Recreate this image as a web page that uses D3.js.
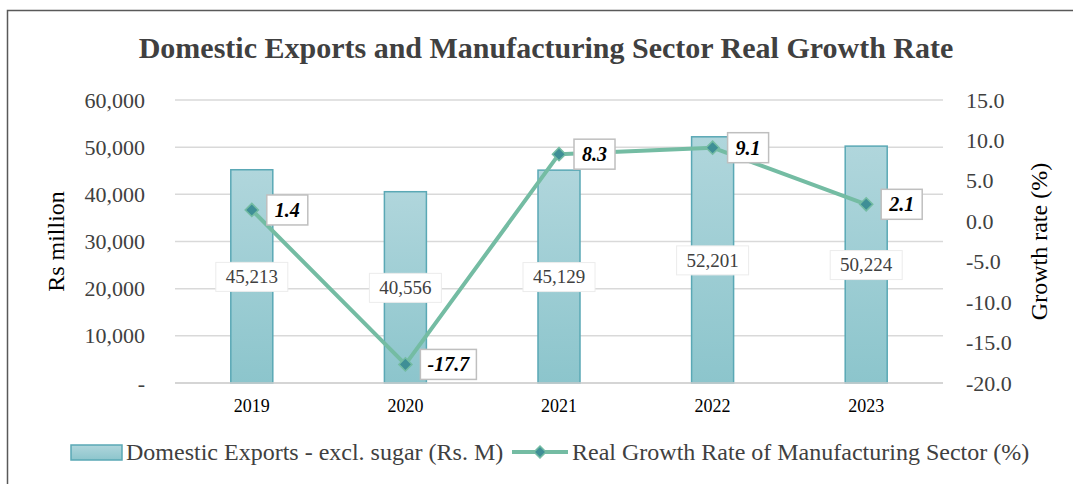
<!DOCTYPE html>
<html>
<head>
<meta charset="utf-8">
<script src="https://cdn.jsdelivr.net/npm/d3@7"></script>
<style>
  body { margin: 0; background: #fff; }
  svg text { font-family: "Liberation Serif", "Times New Roman", serif; }
</style>
</head>
<body>
<div id="chart"></div>
<script>
const years = ["2019", "2020", "2021", "2022", "2023"];
const exportsRsM = [45213, 40556, 45129, 52201, 50224];
const growthRate = [1.4, -17.7, 8.3, 9.1, 2.1];
const leftTicks = [0, 10000, 20000, 30000, 40000, 50000, 60000];
const rightTicks = [-20, -15, -10, -5, 0, 5, 10, 15];

const width = 1073, height = 484;
const margin = { top: 100, right: 130, bottom: 101, left: 175 };

const svg = d3.select("#chart").append("svg")
    .attr("width", width)
    .attr("height", height);

// gradient for bars
const defs = svg.append("defs");
const grad = defs.append("linearGradient")
    .attr("id", "barGrad").attr("x1", 0).attr("y1", 0).attr("x2", 0).attr("y2", 1);
grad.append("stop").attr("offset", "0%").attr("stop-color", "#b0d6dc");
grad.append("stop").attr("offset", "100%").attr("stop-color", "#8cc5cc");

// outer frame
svg.append("rect")
    .attr("x", 7.5).attr("y", 10.5)
    .attr("width", width).attr("height", height)
    .attr("fill", "none").attr("stroke", "#595959").attr("stroke-width", 1.5);

const x = d3.scaleBand()
    .domain(years)
    .range([margin.left, width - margin.right]);

const y = d3.scaleLinear()
    .domain([0, 60000])
    .range([height - margin.bottom, margin.top]);

const y2 = d3.scaleLinear()
    .domain([-20, 15])
    .range([height - margin.bottom, margin.top]);

// Title
svg.append("text")
    .attr("x", 546).attr("y", 58)
    .attr("text-anchor", "middle")
    .style("font-size", "30px").style("font-weight", "bold")
    .style("fill", "#404040")
    .text("Domestic Exports and Manufacturing Sector Real Growth Rate");

// Grid
svg.append("g")
    .selectAll("line")
    .data(leftTicks)
    .join("line")
    .attr("x1", margin.left).attr("x2", width - margin.right)
    .attr("y1", d => y(d)).attr("y2", d => y(d))
    .attr("stroke", "#d9d9d9").attr("stroke-width", 1.5);

// Left axis
const leftAxis = svg.append("g")
    .attr("transform", `translate(${margin.left - 27},0)`)
    .call(d3.axisLeft(y).tickValues(leftTicks).tickSize(0)
        .tickFormat(d => d === 0 ? "-" : d3.format(",")(d)));
leftAxis.select(".domain").remove();
leftAxis.selectAll("text")
    .attr("dx", 0).attr("dy", "0.32em")
    .style("font-size", "22px").style("fill", "#404040")
    .style("font-family", "Liberation Serif");

// Right axis
const rightAxis = svg.append("g")
    .attr("transform", `translate(${width - margin.right + 20},0)`)
    .call(d3.axisRight(y2).tickValues(rightTicks).tickSize(0)
        .tickFormat(d3.format(".1f")));
rightAxis.select(".domain").remove();
rightAxis.selectAll("text")
    .attr("dy", "0.32em")
    .style("font-size", "22px").style("fill", "#404040")
    .style("font-family", "Liberation Serif")
    .text(d => d < 0 ? "-" + d3.format(".1f")(-d) : d3.format(".1f")(d));

// Axis titles
svg.append("text")
    .attr("transform", `translate(64,${(margin.top + height - margin.bottom) / 2}) rotate(-90)`)
    .attr("text-anchor", "middle")
    .style("font-size", "24px").style("fill", "#000")
    .text("Rs million");

svg.append("text")
    .attr("transform", `translate(1047,${(margin.top + height - margin.bottom) / 2}) rotate(-90)`)
    .attr("text-anchor", "middle")
    .style("font-size", "24px").style("fill", "#000")
    .text("Growth rate (%)");

// Bars
const barW = 42;
svg.append("g")
    .selectAll("rect")
    .data(exportsRsM)
    .join("rect")
    .attr("x", (d, i) => x(years[i]) + x.bandwidth() / 2 - barW / 2)
    .attr("y", d => y(d))
    .attr("width", barW)
    .attr("height", d => y(0) - y(d))
    .attr("fill", "url(#barGrad)")
    .attr("stroke", "#5aa8b5").attr("stroke-width", 1.5);

// baseline
svg.append("line")
    .attr("x1", margin.left).attr("x2", width - margin.right)
    .attr("y1", y(0)).attr("y2", y(0))
    .attr("stroke", "#d0d0d0").attr("stroke-width", 1.5);

// X axis labels
svg.append("g")
    .selectAll("text")
    .data(years)
    .join("text")
    .attr("x", d => x(d) + x.bandwidth() / 2)
    .attr("y", y(0) + 29)
    .attr("text-anchor", "middle")
    .style("font-size", "18px").style("fill", "#000")
    .text(d => d);

// Bar value labels
const barLbl = svg.append("g")
    .selectAll("g")
    .data(exportsRsM)
    .join("g")
    .attr("transform", (d, i) => `translate(${x(years[i]) + x.bandwidth() / 2},${(y(d) + y(0)) / 2})`);
barLbl.append("rect")
    .attr("x", -36).attr("y", -14).attr("width", 72).attr("height", 29)
    .attr("fill", "#fff").attr("stroke", "#ececec");
barLbl.append("text")
    .attr("text-anchor", "middle").attr("dy", "0.35em")
    .style("font-size", "19px").style("fill", "#404040")
    .text(d => d3.format(",")(d));

// Line
const line = d3.line()
    .x((d, i) => x(years[i]) + x.bandwidth() / 2)
    .y(d => y2(d));
svg.append("path")
    .datum(growthRate)
    .attr("d", line)
    .attr("fill", "none")
    .attr("stroke", "#74bca3").attr("stroke-width", 4)
    .attr("stroke-linejoin", "round");

// Markers
svg.append("g")
    .selectAll("path")
    .data(growthRate)
    .join("path")
    .attr("transform", (d, i) => `translate(${x(years[i]) + x.bandwidth() / 2},${y2(d)})`)
    .attr("d", d3.symbol(d3.symbolDiamond2, 110))
    .attr("fill", "#3f8f96").attr("stroke", "#74bca3").attr("stroke-width", 1.5);

// Line value labels
const lineLbl = svg.append("g")
    .selectAll("g")
    .data(growthRate)
    .join("g")
    .attr("transform", (d, i) => `translate(${x(years[i]) + x.bandwidth() / 2 + 15},${y2(d)})`);
lineLbl.append("rect")
    .attr("x", 0).attr("y", -15)
    .attr("width", d => d < 0 ? 56 : 41).attr("height", 30)
    .attr("fill", "#fff").attr("stroke", "#bfbfbf").attr("stroke-width", 1.5);
lineLbl.append("text")
    .attr("x", d => d < 0 ? 28 : 20.5).attr("dy", "0.35em")
    .attr("text-anchor", "middle")
    .style("font-size", "20px").style("font-weight", "bold").style("font-style", "italic")
    .style("fill", "#000")
    .text(d => d3.format(".1f")(d).replace("−", "-"));

// Legend
const leg = svg.append("g");
leg.append("rect")
    .attr("x", 71).attr("y", 445).attr("width", 51).attr("height", 15)
    .attr("fill", "url(#barGrad)").attr("stroke", "#5aa8b5").attr("stroke-width", 1.5);
leg.append("text")
    .attr("x", 126).attr("y", 460)
    .style("font-size", "24px").style("fill", "#404040")
    .text("Domestic Exports - excl. sugar (Rs. M)");
leg.append("line")
    .attr("x1", 512).attr("x2", 568).attr("y1", 452).attr("y2", 452)
    .attr("stroke", "#74bca3").attr("stroke-width", 4);
leg.append("path")
    .attr("transform", "translate(540,452)")
    .attr("d", d3.symbol(d3.symbolDiamond2, 90))
    .attr("fill", "#3f8f96").attr("stroke", "#74bca3").attr("stroke-width", 1.5);
leg.append("text")
    .attr("x", 572).attr("y", 460)
    .style("font-size", "24px").style("fill", "#404040")
    .text("Real Growth Rate of Manufacturing Sector (%)");
</script>
</body>
</html>
